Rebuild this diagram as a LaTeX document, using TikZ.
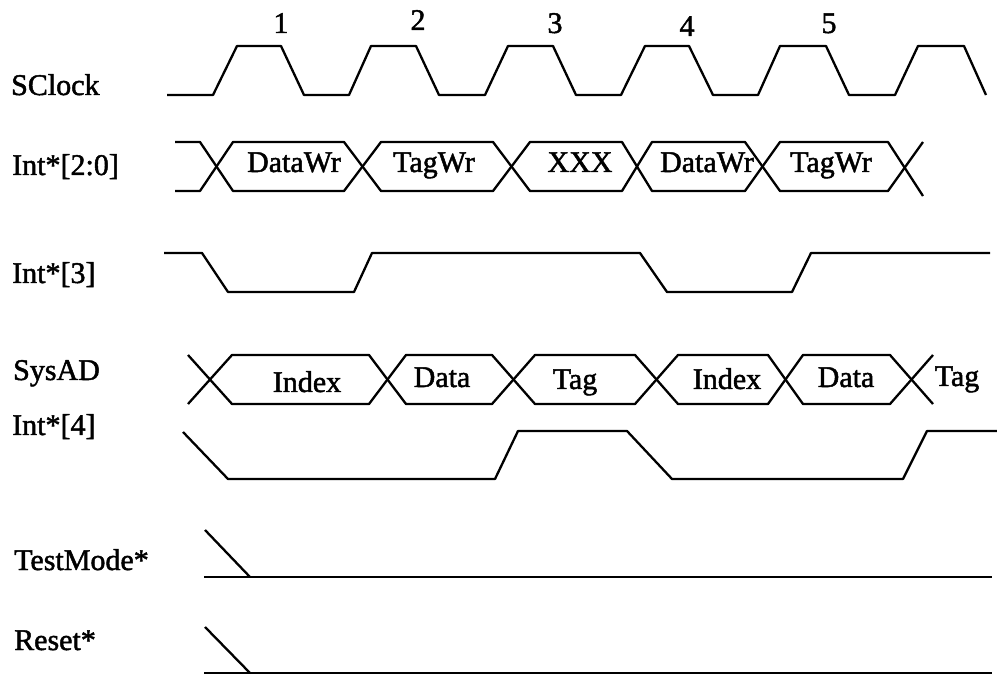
\documentclass[tikz,border=0pt]{standalone}
\usepackage{fontspec}
\setmainfont{Liberation Serif}[BoldFont=Liberation Serif, BoldFeatures={FakeBold=1.6}]
\begin{document}
\begin{tikzpicture}[x=1pt,y=-1pt,
  wave/.style={line width=2.3pt,line join=round,line cap=butt},
  sig/.style={anchor=base west,inner sep=0pt,font=\fontsize{30}{35}\selectfont\bfseries},
  val/.style={anchor=base,inner sep=0pt,font=\fontsize{30}{35}\selectfont\bfseries},
  num/.style={anchor=base,inner sep=0pt,font=\fontsize{30}{35}\selectfont\bfseries}]
\useasboundingbox (0,0) rectangle (997,676);
% signal names
\node[sig] (lclk) at (11,95) {SClock};
\node[sig] (lint20) at (12,175) {Int*[2:0]};
\node[sig] (lint3) at (12,283) {Int*[3]};
\node[sig] (lsys) at (13,380) {SysAD};
\node[sig] (lint4) at (12,435) {Int*[4]};
\node[sig] (ltest) at (14,570) {TestMode*};
\node[sig] (lreset) at (14,650) {Reset*};
% cycle numbers
\node[num] (n1) at (281,33) {1};
\node[num] (n2) at (418,30) {2};
\node[num] (n3) at (555,33) {3};
\node[num] (n4) at (687,36) {4};
\node[num] (n5) at (829,33) {5};
% SClock
\draw[wave] (167,95) -- (213,95) -- (237,46) -- (281,46) -- (304,95) -- (349,95) -- (371,46) -- (416,46) -- (439,95) -- (485,95) -- (508,46) -- (553,46) -- (576,95) -- (621,95) -- (645,46) -- (689,46) -- (713,95) -- (758,95) -- (780,46) -- (826,46) -- (849,95) -- (895,95) -- (918,46) -- (964,46) -- (986,95);
% Int*[2:0]
\draw[wave] (175,142) -- (200,142) -- (233,191) -- (344,191) -- (381,142) -- (493,142) -- (530,191) -- (622,191) -- (652,142) -- (745,142) -- (780,191) -- (888,191) -- (923,142);
\draw[wave] (175,191) -- (200,191) -- (233,142) -- (344,142) -- (381,191) -- (493,191) -- (530,142) -- (622,142) -- (652,191) -- (745,191) -- (780,142) -- (888,142) -- (923,196);
\node[val] (b1) at (294,172) {DataWr};
\node[val] (b2) at (434,172) {TagWr};
\node[val] (b3) at (580,172) {XXX};
\node[val] (b4) at (707,172) {DataWr};
\node[val] (b5) at (831,172) {TagWr};
% Int*[3]
\draw[wave] (164,253) -- (202,253) -- (228,292) -- (354,292) -- (372,253) -- (640,253) -- (667,292) -- (792,292) -- (811,253) -- (990,253);
% SysAD
\draw[wave] (188,404) -- (232,355) -- (369,355) -- (406,404) -- (492,404) -- (535,355) -- (635,355) -- (678,404) -- (768,404) -- (803,355) -- (890,355) -- (933,404);
\draw[wave] (188,355) -- (232,404) -- (369,404) -- (406,355) -- (492,355) -- (535,404) -- (635,404) -- (678,355) -- (768,355) -- (803,404) -- (890,404) -- (933,355);
\node[val] (s1) at (307,392) {Index};
\node[val] (s2) at (442,387) {Data};
\node[val] (s3) at (575,389) {Tag};
\node[val] (s4) at (727,389) {Index};
\node[val] (s5) at (846,387) {Data};
\node[val] (s6) at (957,386) {Tag};
% Int*[4]
\draw[wave] (183,432) -- (228,479) -- (495,479) -- (518,431) -- (627,431) -- (672,479) -- (903,479) -- (927,431) -- (997,431);
% TestMode*
\draw[wave] (205,530) -- (250,577);
\draw[wave] (204,577) -- (992,577);
% Reset*
\draw[wave] (205,627) -- (250,673);
\draw[wave] (204,673) -- (992,673);
\end{tikzpicture}
\end{document}
